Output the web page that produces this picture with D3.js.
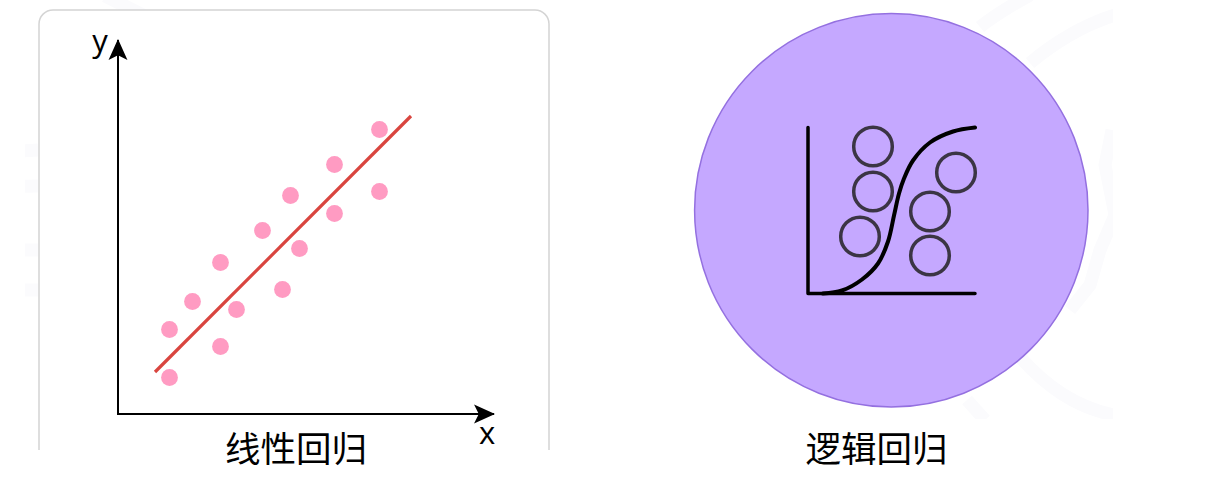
<!DOCTYPE html>
<html>
<head>
<meta charset="utf-8">
<style>
  html, body { margin: 0; padding: 0; background: #fff; }
  svg { display: block; }
  .label { font-family: "Noto Sans CJK SC", sans-serif; font-size: 35.5px; fill: #000; text-anchor: middle; }
  .axisname { font-family: "Open Sans", "Noto Sans", sans-serif; font-size: 31px; fill: #000; text-anchor: middle; }
</style>
<script src="https://cdn.jsdelivr.net/npm/d3@7"></script>
</head>
<body>
<svg id="chart" width="1216" height="480"></svg>
<script>
// left panel: scatter
const scatterX = [5.15, 5.15, 7.45, 10.25, 10.25, 11.85, 14.45, 16.45, 17.25, 18.15, 21.65, 21.65, 26.15, 26.15];
const scatterY = [3.65, 8.45, 11.25, 6.75, 15.15, 10.45, 18.35, 12.45, 21.85, 16.55, 24.95, 20.05, 28.45, 22.25];
const fitX = [3.7, 29.3];
const fitY = [4.2, 29.8];

// right panel: s-curve and outlined circles
const curveX = [1.5, 3.4, 5.4, 7.0, 8.0, 8.6, 9.1, 9.6, 10.5, 12.2, 14.5, 16.7];
const curveY = [0, 0.3, 1.4, 3.0, 5.2, 7.8, 10.0, 11.5, 13.3, 15.1, 16.2, 16.6];
const ringX = [6.5, 6.5, 5.2, 12.2, 12.2, 14.8];
const ringY = [14.7, 10.2, 5.7, 8.2, 3.8, 12.1];

const captions = ["线性回归", "逻辑回归"];
const axisNames = ["x", "y"];

const svg = d3.select("#chart");

const x = d3.scaleLinear().domain([0, 37.6]).range([118, 494]);
const y = d3.scaleLinear().domain([0, 37.4]).range([414, 40]);
const cx = d3.scaleLinear().domain([0, 16.7]).range([808, 975]);
const cy = d3.scaleLinear().domain([0, 16.6]).range([293.5, 127.5]);

const defs = svg.append("defs");
defs.append("clipPath").attr("id", "cut")
  .append("rect").attr("x", 0).attr("y", 0).attr("width", 600).attr("height", 450);
defs.append("clipPath").attr("id", "wmclip")
  .append("rect").attr("x", 25).attr("y", 0).attr("width", 1088).attr("height", 419);

// faint background watermark
const wm = svg.append("g").attr("clip-path", "url(#wmclip)")
  .attr("fill", "none").attr("stroke", "#fbfbfd").attr("stroke-width", 13);
wm.append("path").attr("d", "M1118,14 C1085,24 1055,42 1030,63");
wm.append("path").attr("d", "M1030,-5 C1012,5 995,15 980,27");
wm.append("path").attr("d", "M1118,416 C1075,408 1045,385 1020,357");
wm.append("path").attr("d", "M985,420 L967,400");
wm.append("path").attr("d", "M1112,130 L1105,165 L1115,215 L1100,250 L1090,285 L1070,310");
wm.append("path").attr("d", "M0,152 L38,150 M0,187 L38,186 M0,250 L38,250 M0,290 L38,290");
wm.append("path").attr("d", "M105,-4 L145,16");

// left panel frame, bottom edge is cut off
svg.append("rect")
  .attr("clip-path", "url(#cut)")
  .attr("x", 39).attr("y", 10).attr("width", 510).attr("height", 520).attr("rx", 14)
  .attr("fill", "#fff").attr("stroke", "#d4d4d4").attr("stroke-width", 1.5);

// arrows
defs.append("marker")
  .attr("id", "arrow").attr("viewBox", "0 0 20 20").attr("refX", 19).attr("refY", 10)
  .attr("markerWidth", 21).attr("markerHeight", 21).attr("markerUnits", "userSpaceOnUse")
  .attr("orient", "auto-start-reverse")
  .append("path").attr("d", "M0,1 L20,10 L0,19 L4.5,10 Z").attr("fill", "#000");

svg.append("path")
  .attr("d", d3.line().x(d => x(d[0])).y(d => y(d[1]))([[0, 37.4], [0, 0], [37.6, 0]]))
  .attr("fill", "none").attr("stroke", "#000").attr("stroke-width", 2)
  .attr("marker-start", "url(#arrow)")
  .attr("marker-end", "url(#arrow)");

svg.append("line")
  .attr("x1", x(fitX[0])).attr("y1", y(fitY[0]))
  .attr("x2", x(fitX[1])).attr("y2", y(fitY[1]))
  .attr("stroke", "#d9453f").attr("stroke-width", 3.2);

svg.append("g").selectAll("circle").data(scatterX).join("circle")
  .attr("cx", d => x(d))
  .attr("cy", (d, i) => y(scatterY[i]))
  .attr("r", 8.4)
  .attr("fill", "#ff9bc2");

svg.append("text").attr("class", "axisname").attr("x", 487).attr("y", 444).text(axisNames[0]);
svg.append("text").attr("class", "axisname").attr("x", 100).attr("y", 52).text(axisNames[1]);
svg.append("text").attr("class", "label").attr("x", 296).attr("y", 462).text(captions[0]);

// right panel
svg.append("circle")
  .attr("cx", 891.3).attr("cy", 210.3).attr("r", 196.7)
  .attr("fill", "#c5a8ff").attr("stroke", "#9470e0").attr("stroke-width", 1.5);

svg.append("path")
  .attr("d", d3.line().x(d => cx(d[0])).y(d => cy(d[1]))([[0, 16.6], [0, 0], [16.7, 0]]))
  .attr("fill", "none").attr("stroke", "#000").attr("stroke-width", 3.5)
  .attr("stroke-linecap", "round").attr("stroke-linejoin", "round");

svg.append("path")
  .attr("d", d3.line().x(d => cx(d)).y((d, i) => cy(curveY[i])).curve(d3.curveCatmullRom)(curveX))
  .attr("fill", "none").attr("stroke", "#000").attr("stroke-width", 4)
  .attr("stroke-linecap", "round");

svg.append("g").selectAll("circle").data(ringX).join("circle")
  .attr("cx", d => cx(d))
  .attr("cy", (d, i) => cy(ringY[i]))
  .attr("r", 19.3)
  .attr("fill", "none").attr("stroke", "#3b3544").attr("stroke-width", 3.5);

svg.append("text").attr("class", "label").attr("x", 876.5).attr("y", 462).text(captions[1]);
</script>
</body>
</html>
